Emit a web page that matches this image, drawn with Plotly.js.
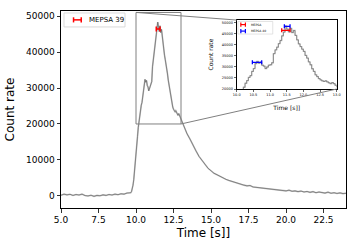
<!DOCTYPE html>
<html><head><meta charset="utf-8">
<script src="https://cdn.plot.ly/plotly-3.0.1.min.js"></script>
<style>html,body{margin:0;padding:0;background:#fff}#c{width:357px;height:250px}</style>
</head><body><div id="c"></div>
<script>
// ---- data ----
const tPre = [5.0,5.2,5.4,5.6,5.8,6.0,6.2,6.4,6.6,6.8,7.0,7.2,7.4,7.6,7.8,8.0,8.2,8.4,8.6,8.8,9.0,9.2,9.4,9.6];
const cPre = [200,500,300,450,150,400,250,500,100,0,200,-100,150,50,300,150,400,250,500,350,600,500,800,750];
const tBurst = [9.65,9.7,9.75,9.8,9.85,9.9,9.95,10.0,10.05,10.1,10.15,10.2,10.25,10.3,10.35,10.4,10.45,10.5,10.55,10.6,10.65,10.7,10.75,10.8,10.85,10.9,10.95,11.0,11.05,11.1,11.15,11.2,11.25,11.3,11.35,11.4,11.45,11.5,11.55,11.6,11.65,11.7,11.75,11.8,11.85,11.9,11.95,12.0,12.05,12.1,12.15,12.2,12.25,12.3,12.35,12.4,12.45,12.5,12.55,12.6,12.65,12.7,12.75,12.8,12.85,12.9,12.95,13.0];
const cBurst = [900,1200,2000,3000,4500,6500,9000,11500,14000,16500,19000,20800,22600,23800,25200,26000,27900,29200,31400,32400,31600,32100,30700,30300,29200,29900,30700,30900,31800,35900,37600,38800,40400,41800,43900,45600,48300,46900,45700,47300,45400,46300,44100,42100,40300,39100,37900,36900,35100,33900,32200,30900,29100,27900,26400,25600,24700,24100,23700,23400,23700,23200,22800,22400,22900,22400,21700,21000];
const tTail = [13.2,13.4,13.6,13.8,14.0,14.2,14.4,14.6,14.8,15.0,15.2,15.4,15.6,15.8,16.0,16.2,16.4,16.6,16.8,17.0,17.2,17.4,17.6,17.8,18.0,18.2,18.4,18.6,18.8,19.0,19.2,19.4,19.6,19.8,20.0,20.2,20.4,20.6,20.8,21.0,21.2,21.4,21.6,21.8,22.0,22.2,22.4,22.6,22.8,23.0,23.2,23.4,23.6,23.8,24.0];
const cTail = [19000,17300,15800,14000,12500,11000,9900,8600,7700,7000,6300,5900,5400,5100,4600,4300,4000,3700,3500,3200,3000,2800,2900,2500,2400,2200,2300,2000,2100,1800,1900,1600,1700,1500,1400,1600,1300,1400,1200,1350,1100,1250,1000,1200,900,1100,1000,800,1050,750,900,700,850,650,750];

// MEPSA peaks
const mepsaT = [11.475], mepsaErr = [0.125], mepsaY = [46400];
const mepsa40T = [10.61, 11.515], mepsa40Err = [0.14, 0.085], mepsa40Y = [32000, 48200];

const xTicks = [5.0,7.5,10.0,12.5,15.0,17.5,20.0,22.5];
const yTicks = [0,10000,20000,30000,40000,50000];
const inXTicks = [10.0,10.5,11.0,11.5,12.0,12.5,13.0];
const inYTicks = [20000,25000,30000,35000,40000,45000,50000];

const legendMain = 'MEPSA 39';
const legendIn = ['MEPSA','MEPSA 40'];

// ---- build ----
const t = tPre.concat(tBurst, tTail);
const c = cPre.concat(cBurst, cTail);

const xR = [5, 24], yR = [-3350, 51400];
const inXR = [10, 13], inYR = [20000, 51000];
const inDomX = [0.6165, 0.9674], inDomY = [0.604, 0.954];
const px = x => (x - xR[0]) / (xR[1] - xR[0]);
const py = y => (y - yR[0]) / (yR[1] - yR[0]);

const F = 'DejaVu Sans, sans-serif';
function lc(xa, ya, w, col, shape) {
  return {x: t, y: c, xaxis: xa, yaxis: ya, mode: 'lines', line: {shape: shape, width: w, color: col}, hoverinfo: 'skip', showlegend: false};
}
function eb(xs, ys, es, col, xa, ya, th, cw) {
  return {x: xs, y: ys, xaxis: xa, yaxis: ya, mode: 'markers', marker: {size: 1, color: 'rgba(0,0,0,0)'},
    error_x: {type: 'data', array: es, color: col, thickness: th, width: cw}, showlegend: false, hoverinfo: 'skip'};
}
const traces = [
  lc('x', 'y', 1.6, '#c4c4c4', 'linear'), lc('x', 'y', 0.6, '#555', 'linear'),
  eb(mepsaT, mepsaY, mepsaErr, 'red', 'x', 'y', 1.5, 2.5),
  lc('x2', 'y2', 1.3, '#c4c4c4', 'hv'), lc('x2', 'y2', 0.5, '#555', 'hv'),
  eb(mepsaT, mepsaY, mepsaErr, 'red', 'x2', 'y2', 1.3, 2),
  eb(mepsa40T, mepsa40Y, mepsa40Err, 'blue', 'x2', 'y2', 1.3, 2)
];

const ax = {showline: true, mirror: true, linecolor: 'black', linewidth: 1, ticks: 'outside', ticklen: 3.5, tickwidth: 0.8,
  tickcolor: 'black', showgrid: false, zeroline: false, tickfont: {family: F, size: 9, color: 'black'}};

const shapes = [
  {type: 'rect', xref: 'x', yref: 'y', x0: inXR[0], x1: inXR[1], y0: inYR[0], y1: inYR[1], line: {color: '#808080', width: 1}, layer: 'above'},
  {type: 'line', xref: 'paper', yref: 'paper', x0: px(inXR[0]), y0: py(inYR[1]), x1: inDomX[0], y1: inDomY[1], line: {color: '#808080', width: 1}},
  {type: 'line', xref: 'paper', yref: 'paper', x0: px(inXR[1]), y0: py(inYR[0]), x1: inDomX[1], y1: inDomY[0], line: {color: '#808080', width: 1}},
  {type: 'rect', xref: 'paper', yref: 'paper', x0: 0.0105, x1: 0.2246, y0: 0.919, y1: 0.99, line: {color: '#d0d0d0', width: 0.8}, fillcolor: 'rgba(255,255,255,0.8)'},
  {type: 'rect', xref: 'paper', yref: 'paper', x0: 0.621, x1: 0.743, y0: 0.883, y1: 0.947, line: {color: '#d0d0d0', width: 0.6}, fillcolor: 'white'}
];
function hGlyph(xc, yc, hw, hh, col, w) {
  shapes.push({type: 'line', xref: 'paper', yref: 'paper', x0: xc - hw, x1: xc + hw, y0: yc, y1: yc, line: {color: col, width: w}});
  shapes.push({type: 'line', xref: 'paper', yref: 'paper', x0: xc - hw, x1: xc - hw, y0: yc - hh, y1: yc + hh, line: {color: col, width: w}});
  shapes.push({type: 'line', xref: 'paper', yref: 'paper', x0: xc + hw, x1: xc + hw, y0: yc - hh, y1: yc + hh, line: {color: col, width: w}});
}
hGlyph(0.0575, 0.955, 0.0135, 0.013, 'red', 1.5);
hGlyph(0.639, 0.931, 0.008, 0.011, 'red', 1.2);
hGlyph(0.639, 0.898, 0.008, 0.011, 'blue', 1.2);

const annotations = [
  {xref: 'paper', yref: 'paper', x: 0.09, y: 0.955, xanchor: 'left', yanchor: 'middle', text: legendMain, showarrow: false, font: {family: F, size: 7, color: 'black'}},
  {xref: 'paper', yref: 'paper', x: 0.66, y: 0.931, xanchor: 'left', yanchor: 'middle', text: legendIn[0], showarrow: false, font: {family: F, size: 3, color: 'black'}},
  {xref: 'paper', yref: 'paper', x: 0.66, y: 0.898, xanchor: 'left', yanchor: 'middle', text: legendIn[1], showarrow: false, font: {family: F, size: 3, color: 'black'}}
];

const layout = {
  width: 357, height: 250, margin: {l: 61, r: 11, t: 11, b: 42},
  paper_bgcolor: 'white', plot_bgcolor: 'white', showlegend: false,
  font: {family: F, color: 'black'},
  xaxis: Object.assign({}, ax, {range: xR, tickvals: xTicks, tickformat: '.1f',
    title: {text: 'Time [s]]', font: {family: F, size: 12, color: 'black'}, standoff: 4}}),
  yaxis: Object.assign({}, ax, {range: yR, tickvals: yTicks, tickformat: 'd',
    title: {text: 'Count rate', font: {family: F, size: 12, color: 'black'}, standoff: 8}}),
  xaxis2: Object.assign({}, ax, {domain: inDomX, anchor: 'y2', range: inXR, tickvals: inXTicks, tickformat: '.1f', ticklen: 2, tickwidth: 0.6,
    tickfont: {family: F, size: 3.5, color: 'black'}, title: {text: 'Time [s]]', font: {family: F, size: 6, color: 'black'}, standoff: 9}}),
  yaxis2: Object.assign({}, ax, {domain: inDomY, anchor: 'x2', range: inYR, tickvals: inYTicks, tickformat: 'd', ticklen: 2, tickwidth: 0.6,
    tickfont: {family: F, size: 3.5, color: 'black'}, title: {text: 'Count rate', font: {family: F, size: 6, color: 'black'}, standoff: 7}}),
  shapes: shapes, annotations: annotations
};
Plotly.newPlot('c', traces, layout, {staticPlot: true, displayModeBar: false});
</script></body></html>
